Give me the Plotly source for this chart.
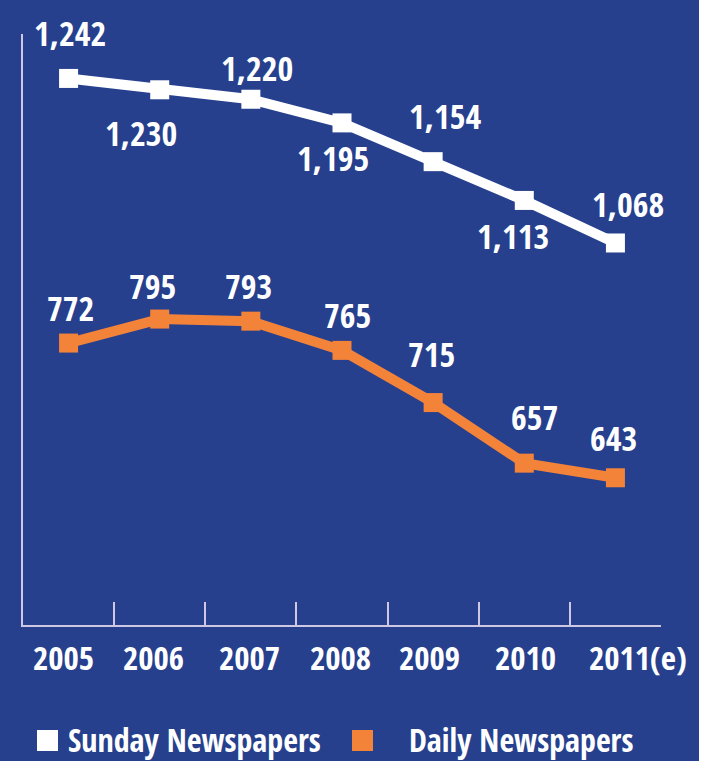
import plotly.graph_objects as go

# Data
years = ["2005", "2006", "2007", "2008", "2009", "2010", "2011(e)"]
sunday = [1242, 1230, 1220, 1195, 1154, 1113, 1068]
daily = [772, 795, 793, 765, 715, 657, 643]
series_names = ["Sunday Newspapers", "Daily Newspapers"]

# Label offsets (pixels) relative to each point
sunday_shift = [(1, 45), (-19, -43), (6, 31), (-9, -35), (12, 46), (-11, -36), (13, 39)]
daily_shift = [(2, 35), (-7, 33), (-2, 35), (5, 35), (-2, 49), (10, 46), (-2, 40)]
# horizontal nudges of the year labels
year_shift = [-5, -6, -1, -2, -4, 1, 23]

BG = "#26408e"
AXIS = "#cfc8e2"
WHITE = "#ffffff"
ORANGE = "#f4833a"
FONT = "Open Sans Condensed, Roboto Condensed, sans-serif"
FS = 34

W, H = 709, 761
L, R, T, B = 23, 48, 34, 136
pw, ph = W - L - R, H - T - B


def px_x(p):
    return (p - L) / pw


def px_y(p):
    return (H - B - p) / ph


fig = go.Figure()

fig.add_trace(go.Scatter(
    x=years, y=sunday, name=series_names[0], yaxis="y2",
    mode="lines+markers",
    line=dict(color=WHITE, width=10),
    marker=dict(symbol="square", size=19, color=WHITE),
    showlegend=False, hoverinfo="x+y",
))
fig.add_trace(go.Scatter(
    x=years, y=daily, name=series_names[1], yaxis="y",
    mode="lines+markers",
    line=dict(color=ORANGE, width=10),
    marker=dict(symbol="square", size=19, color=ORANGE),
    showlegend=False, hoverinfo="x+y",
))

annotations = []
# category index used as the x position of each value label
for i, (v, (dx, dy)) in enumerate(zip(sunday, sunday_shift)):
    annotations.append(dict(
        x=i, y=v, xref="x", yref="y2", text=f"{v:,}", showarrow=False,
        xshift=dx, yshift=dy,
        font=dict(family=FONT, size=FS, color=WHITE, weight="bold"),
    ))
for i, (v, (dx, dy)) in enumerate(zip(daily, daily_shift)):
    annotations.append(dict(
        x=i, y=v, xref="x", yref="y", text=f"{v:,}", showarrow=False,
        xshift=dx, yshift=dy,
        font=dict(family=FONT, size=FS, color=WHITE, weight="bold"),
    ))

# year labels under the axis
for i, (yr, dx) in enumerate(zip(years, year_shift)):
    annotations.append(dict(
        x=i, y=px_y(657), xref="x", yref="paper", text=yr, showarrow=False,
        xshift=dx, yanchor="middle",
        font=dict(family=FONT, size=33, color=WHITE, weight="bold"),
    ))

# Legend drawn as swatches + text along the bottom
legend_colors = [WHITE, ORANGE]
legend_text_x = [66, 407]
legend_swatch_x = [37, 352]

shapes = [
    # white strip at the right edge
    dict(type="rect", xref="paper", yref="paper",
         x0=px_x(699), x1=px_x(720), y0=px_y(780), y1=px_y(-20),
         fillcolor=WHITE, line=dict(width=0), layer="below"),
]
for name, col, sx, tx in zip(series_names, legend_colors, legend_swatch_x, legend_text_x):
    shapes.append(dict(type="rect", xref="paper", yref="paper",
                       x0=px_x(sx), x1=px_x(sx + 21), y0=px_y(751), y1=px_y(730),
                       fillcolor=col, line=dict(width=0)))
    annotations.append(dict(
        x=px_x(tx), y=px_y(739), xref="paper", yref="paper", text=name,
        showarrow=False, xanchor="left", yanchor="middle",
        font=dict(family=FONT, size=32, color=WHITE, weight="bold"),
    ))

fig.update_layout(
    width=W, height=H,
    margin=dict(l=L, r=R, t=T, b=B, pad=0, autoexpand=False),
    paper_bgcolor=BG, plot_bgcolor=BG,
    font=dict(family=FONT, color=WHITE),
    xaxis=dict(
        type="category", range=[-0.5, 6.5], automargin=False,
        showline=True, linecolor=AXIS, linewidth=2,
        ticks="inside", tickson="boundaries", ticklen=23, tickwidth=2, tickcolor=AXIS,
        showgrid=False, zeroline=False, showticklabels=False,
    ),
    yaxis=dict(
        range=[502, 1068], showline=True, linecolor=AXIS, linewidth=2, automargin=False,
        showticklabels=False, ticks="", showgrid=False, zeroline=False,
    ),
    yaxis2=dict(
        range=[664, 1289], overlaying="y", visible=False,
        showgrid=False, zeroline=False,
    ),
    annotations=annotations,
    shapes=shapes,
)

fig.write_html("out.html")
